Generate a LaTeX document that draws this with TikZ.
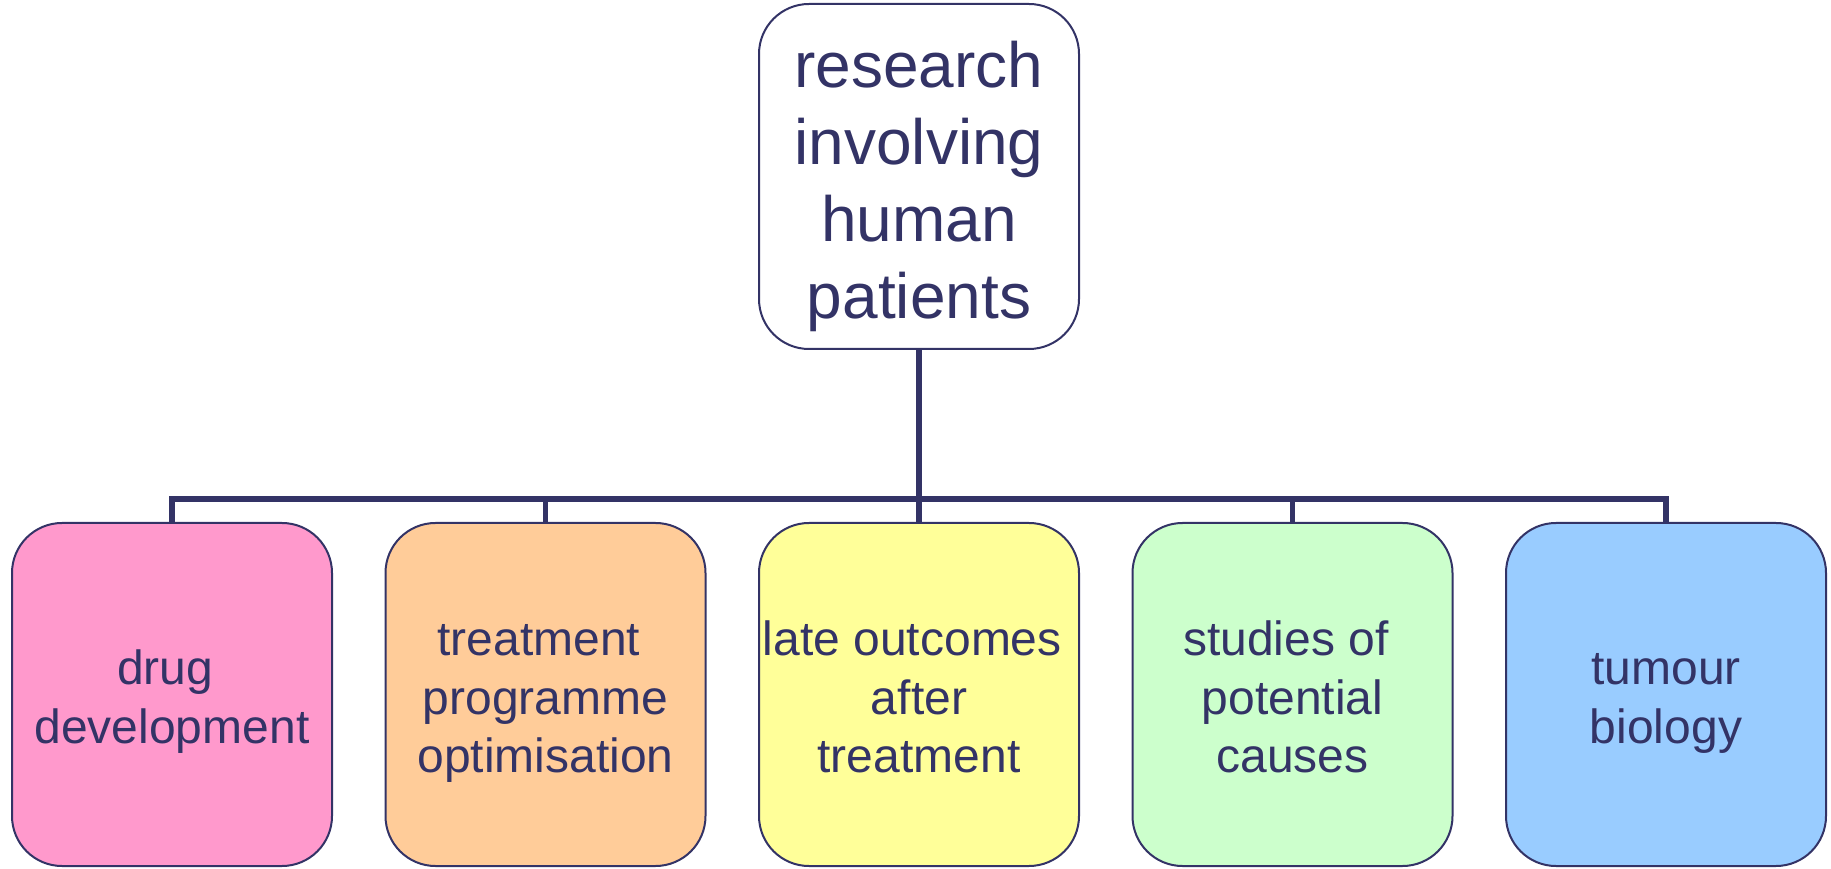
\documentclass[tikz,border=0pt]{standalone}
\usepackage{fontspec}
\setmainfont{Liberation Sans}
\usetikzlibrary{positioning}
\definecolor{navy}{RGB}{51,51,102}
\definecolor{pinkfill}{RGB}{255,153,204}
\definecolor{orangefill}{RGB}{255,204,153}
\definecolor{yellowfill}{RGB}{255,255,153}
\definecolor{greenfill}{RGB}{204,255,204}
\definecolor{bluefill}{RGB}{153,204,255}
\tikzstyle{box} = [rectangle, draw=navy, line width=2pt, rounded corners=50pt,
    minimum width=320pt, minimum height=343pt, inner sep=0pt,
    text=navy, align=center]
\tikzstyle{topbox} = [box, fill=white, minimum height=345pt,
    font=\fontsize{64}{77}\selectfont, text height=307pt, text depth=23pt]
\tikzstyle{leaf} = [box, font=\fontsize{48}{58.5}\selectfont, text depth=15pt]
% height of the text block, by number of lines
\tikzstyle{twolines} = [text height=112.5pt]
\tikzstyle{threelines} = [text height=171pt]
\tikzstyle{link} = [draw=navy, line width=5.5pt]
% space kept at the end of a line
\newcommand{\tsp}{\hspace*{0.278em}}

\begin{document}
\begin{tikzpicture}[x=1pt,y=1pt]
	\useasboundingbox (0,0) rectangle (1831,868);
	% Place nodes
	\node [leaf, threelines, fill=yellowfill] (late) at (919,173.5) {late outcomes\tsp\\after\tsp\\treatment};
	\node [leaf, threelines, fill=orangefill, left=51.5pt of late] (prog) {treatment\tsp\\programme\\optimisation};
	\node [leaf, twolines, fill=pinkfill, left=51.5pt of prog] (drug) {drug\tsp\\development};
	\node [leaf, threelines, fill=greenfill, right=51.5pt of late] (causes) {studies of\tsp\\potential\\causes};
	\node [leaf, twolines, fill=bluefill, right=51.5pt of causes] (tumour) {tumour\\biology};
	\node [topbox, above=172pt of late] (research) {research\\involving\\human\tsp\\patients};
	
	% Connectors
	\coordinate [above=23pt of late.north] (bar);
	\foreach \n in {drug,prog,late,causes,tumour}
		\draw [link] (research.south) -- (research.south |- bar) -| (\n.north);
\end{tikzpicture}
\end{document}
